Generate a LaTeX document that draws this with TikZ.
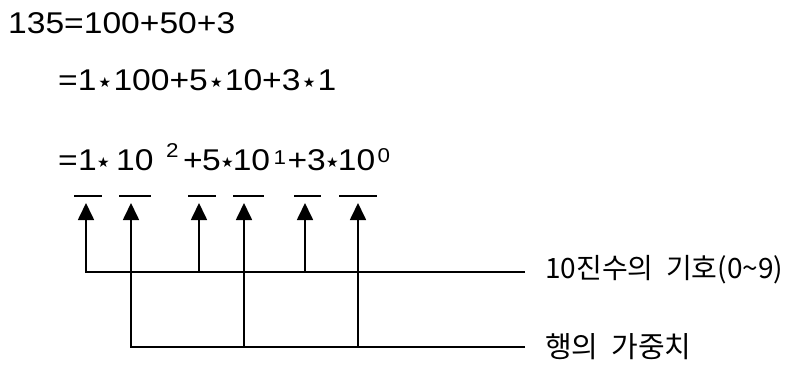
\documentclass[tikz,border=0pt]{standalone}
\usepackage{fontspec}
\setmainfont{Liberation Sans}[FakeStretch=1.12]
\newfontfamily\korfont{Noto Sans CJK KR}[WordSpace=2]
\newfontfamily\symfont{DejaVu Sans}
\newcommand{\mulstar}{\raisebox{3pt}{\symfont\fontsize{14}{14}\selectfont ★}}
\newcommand{\tms}{\makebox[17pt]{\mulstar}}
\usetikzlibrary{arrows.meta,positioning}

\begin{document}
\begin{tikzpicture}[x=1pt, y=-1pt,
    every node/.style={inner sep=0pt, anchor=base west, font=\fontsize{30}{32}\selectfont},
    sup/.style={font=\fontsize{20}{22}\selectfont},
    lbl/.style={anchor=west, font=\korfont\fontsize{28}{30}\selectfont},
    ul/.style={line width=1.3pt},
    bus/.style={line width=1.7pt},
    up/.style={bus, -{Triangle[width=16pt,length=17pt]}}]
  \useasboundingbox (0,0) rectangle (790,372);
  % equations
  \node (l1) at (8,33) {135=100+50+3};
  \node (l2) at (58,90) {=1\tms100+5\tms10+3\tms1};
  \node (eq) at (58,170) {=};
  \foreach \t/\x/\n in {1/78/a1, \mulstar/97/s1, 10/116/b2, +/183/p1, 5/202/a2, \mulstar/220.8/s2, 10/232.6/b1, +/287.5/p2, 3/307/a3, \mulstar/325.8/s3, 10/337.7/b0}
    {\node (\n) at (\x,170) {\t};}
  \node[sup] (e2) at (166,157) {2};
  \node[sup] (e1) at (273.5,164) {1};
  \node[sup] (e0) at (377.5,162) {0};
  % underlines
  \foreach \xa/\xb in {74/102, 119/151, 188/216, 233/264, 294/321, 339/377}
    {\draw[ul] (\xa,196) -- (\xb,196);}
  % labels
  \node[lbl] (sym) at (545,270) {10진수의 기호(0\char`~9)};
  \node[lbl, font=\korfont\fontsize{29}{30}\selectfont] (wt) at (545,347) {행의 가중치};
  % arrow tips
  \foreach \n/\x in {t1/86, t2/131, t3/199, t4/244, t5/305, t6/358}
    {\coordinate (\n) at (\x,203);}
  % buses
  \draw[up] ([xshift=-20pt]sym.west |- 0,272) -| (t1);
  \draw[up] ([xshift=-20pt]wt.west) -| (t2);
  \foreach \n in {t3,t5}{\draw[up] (\n |- 0,272) -- (\n);}
  \foreach \n in {t4,t6}{\draw[up] (\n |- wt.west) -- (\n);}
\end{tikzpicture}
\end{document}
